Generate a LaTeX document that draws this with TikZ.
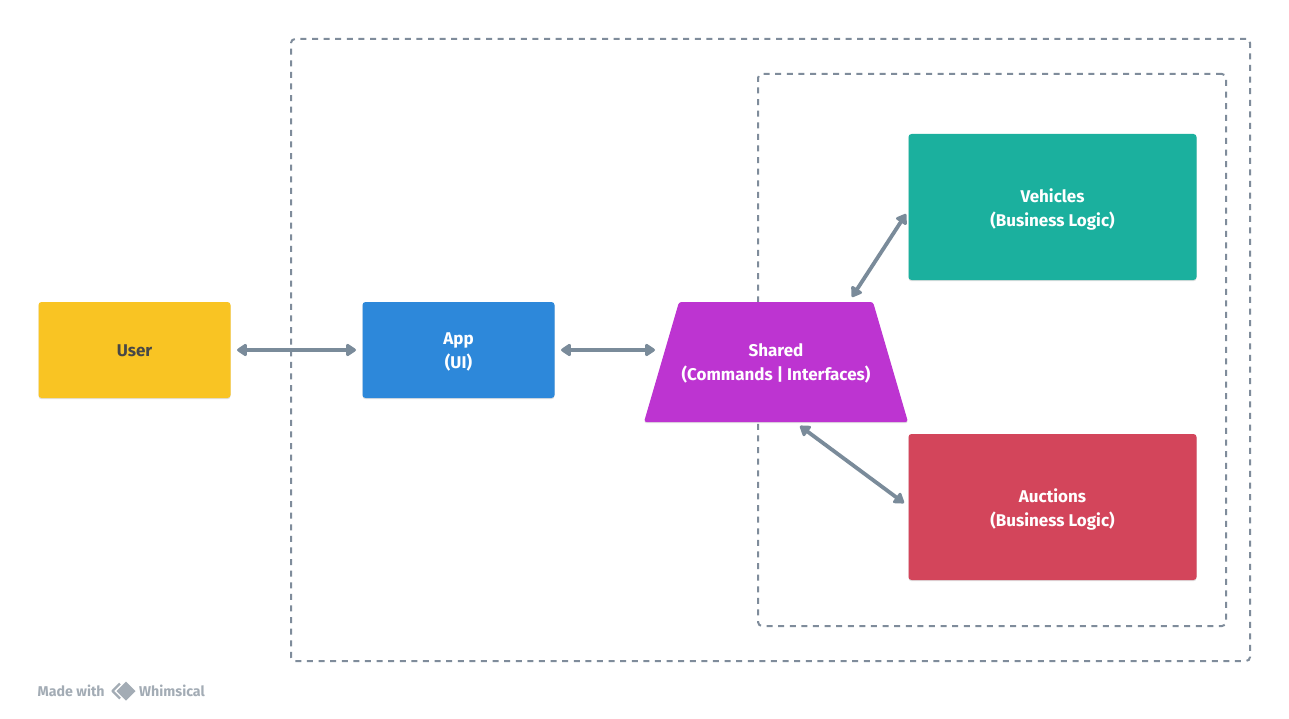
\documentclass[tikz,border=0pt]{standalone}
\usepackage{fontspec}
\setmainfont{Fira Sans}
\usetikzlibrary{shadows,arrows.meta}
\definecolor{edgecol}{HTML}{7A8B9A}
\definecolor{dashcol}{HTML}{7F8C9B}
\definecolor{wmk}{HTML}{A3ACB5}
\definecolor{ycol}{HTML}{F9C423}
\definecolor{bcol}{HTML}{2D88DA}
\definecolor{pcol}{HTML}{BD34D1}
\definecolor{gcol}{HTML}{1BB09E}
\definecolor{rcol}{HTML}{D3455B}
\newcommand{\lift}{\rule{0pt}{15.5pt}}
\newcommand{\liftbig}{\rule{0pt}{19.5pt}}
\newcommand{\liftsmall}{\rule{0pt}{13.5pt}}
\tikzset{
  x=1pt,y=-1pt,
  softshadow/.style={general shadow={shadow xshift=0pt,shadow yshift=-1.2pt,opacity=.12,fill=black}},
  boxnode/.style={rectangle,rounded corners=3pt,draw=none,softshadow,text=white,font=\fontsize{17}{24}\selectfont\bfseries,align=center,inner sep=0pt,outer sep=0pt},
  zone/.style={draw=dashcol,line width=2pt,rounded corners=4pt,dash pattern=on 6pt off 5.6pt},
  link/.style={draw=edgecol,line width=3.8pt,{Triangle[length=11pt,width=14pt,round]}-{Triangle[length=11pt,width=14pt,round]}},
  wm/.style={text=wmk,font=\fontsize{14.2}{16}\selectfont\bfseries,inner sep=0pt,anchor=west}
}
\begin{document}
\begin{tikzpicture}
\useasboundingbox (0,0) rectangle (1289,719);
\fill[white] (0,0) rectangle (1289,719);
\node[zone,rectangle,minimum width=959pt,minimum height=622pt,inner sep=0pt] (outer) at (770.5,350) {};
\node[zone,rectangle,minimum width=468pt,minimum height=552pt,inner sep=0pt] (inner) at (992,350) {};
\node[boxnode,fill=ycol,minimum width=192pt,minimum height=96pt,text=black!72] (user) at (134.5,350) {\liftsmall User};
\node[boxnode,fill=bcol,minimum width=192pt,minimum height=96pt] (app) at (458.5,350) {\lift App\\(UI)};
\node[boxnode,fill=gcol,minimum width=288pt,minimum height=146pt] (veh) at (1052.5,207) {\liftbig Vehicles\\(Business Logic)};
\node[boxnode,fill=rcol,minimum width=288pt,minimum height=146pt] (auc) at (1052.5,507) {\liftbig Auctions\\(Business Logic)};
\path[fill=pcol,rounded corners=2.5pt,softshadow] (679,302) -- (873,302) -- (908,422) -- (644,422) -- cycle;
\node[rectangle,inner sep=0pt,outer sep=0pt,text=white,font=\fontsize{17}{24}\selectfont\bfseries,align=center] (shared) at (776,362) {\lift Shared\\(Commands | Interfaces)};
\coordinate (sl) at (655,350);
\coordinate (vin) at (906,214);
\coordinate (vout) at (852,297);
\coordinate (ain) at (904,503);
\coordinate (aout) at (800,426);
\draw[link,shorten <=6.5pt,shorten >=6.5pt] (user.east) -- (app.west);
\draw[link,shorten <=6.5pt] (app.east) -- (sl);
\draw[link] (vout) -- (vin);
\draw[link] (aout) -- (ain);
\node[wm] (made) at (37.5,691) {Made with};
\node[wm] (whim) at (139,691) {Whimsical};
\fill[wmk] (126,681.5) -- (135.5,691) -- (126,700.5) -- (116.5,691) -- cycle;
\draw[wmk,line width=2.2pt,line join=round] (120,683.5) -- (112.5,691) -- (120,698.5);
\end{tikzpicture}
\end{document}
